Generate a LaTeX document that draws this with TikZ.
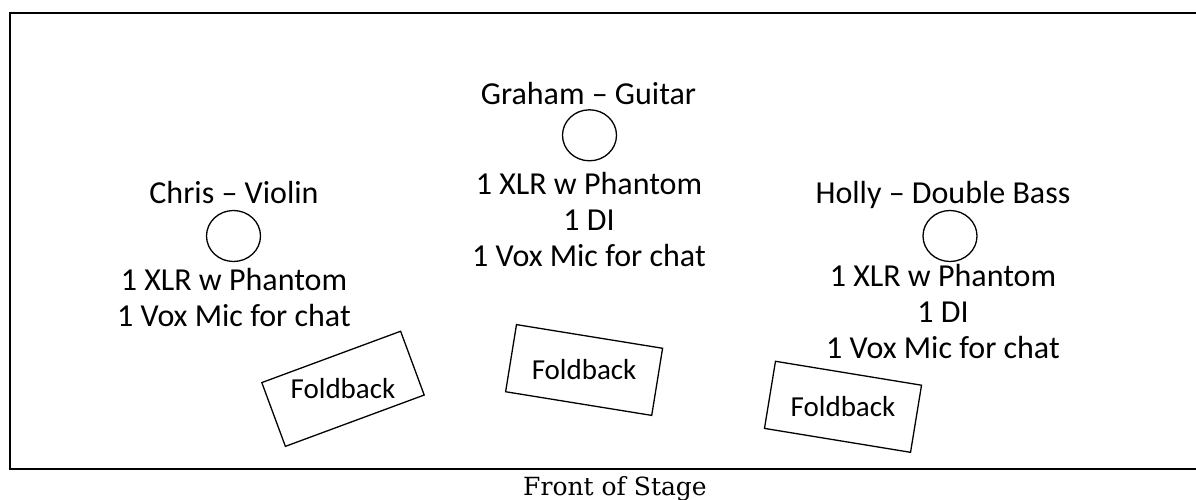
\documentclass[tikz,border=0pt]{standalone}
\usepackage{fontspec}
\setmainfont{Carlito}
\newfontfamily\frontfont{DejaVu Serif}
\usetikzlibrary{shapes.geometric}
\tikzset{
    who/.style = {font = \fontsize{32}{36}\selectfont, inner sep = 0pt, anchor = base},
    gear/.style = {font = \fontsize{32}{36}\selectfont, inner sep = 0pt, align = center, anchor = base},
    spot/.style = {draw, ellipse, line width = 1.3pt, minimum width = 54pt, minimum height = 51pt, inner sep = 0pt},
    wedge/.style = {draw, line width = 1.3pt, minimum width = 148pt, minimum height = 68pt, inner sep = 0pt},
    wedgetext/.style = {font = \fontsize{29}{34}\selectfont, inner sep = 0pt}
}
\begin{document}
\begin{tikzpicture}[x = 1pt, y = -1pt]
        \useasboundingbox (0, 0) rectangle (1196, 500);
        \draw [line width = 2pt] (10, 13.5) rectangle (1220, 469);

        % players (gear nodes sit on their last line)
        \node [who] (chris) at (234, 203) {Chris – Violin};
        \node [spot] (chrisspot) at (233.5, 236) {};
        \node [gear] (chrisgear) at (234, 326.7) {1 XLR w Phantom\\1 Vox Mic for chat};

        \node [who] (graham) at (588.5, 105) {Graham – Guitar};
        \node [spot] (grahamspot) at (589.5, 135.3) {};
        \node [gear] (grahamgear) at (589, 266.7) {1 XLR w Phantom\\1 DI\\1 Vox Mic for chat};

        \node [who] (holly) at (943, 203.3) {Holly – Double Bass};
        \node [spot] (hollyspot) at (950, 236) {};
        \node [gear] (hollygear) at (943, 358.3) {1 XLR w Phantom\\1 DI\\1 Vox Mic for chat};

        % foldback wedges
        \node [wedge, rotate = 20.3] (fbleft) at (343, 388.8) {};
        \node [wedge, rotate = -9.2] (fbmid) at (584.1, 370) {};
        \node [wedge, rotate = -9.3] (fbright) at (843, 406.8) {};
        \node [wedgetext] at (fbleft.center) {Foldback};
        \node [wedgetext] at (fbmid.center) {Foldback};
        \node [wedgetext] at (fbright.center) {Foldback};

        \node [inner sep = 0pt, anchor = base, font = \frontfont\fontsize{25}{30}\selectfont] (front) at (615, 495) {Front of Stage};
    \end{tikzpicture}
\end{document}
